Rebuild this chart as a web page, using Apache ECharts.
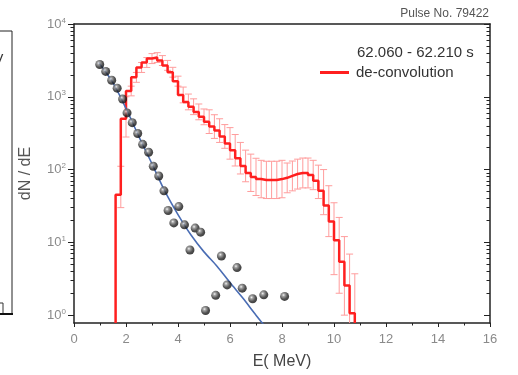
<!DOCTYPE html>
<html><head><meta charset="utf-8">
<script src="https://cdn.jsdelivr.net/npm/echarts@6/dist/echarts.min.js"></script>
<style>html,body{margin:0;padding:0;background:#fff}#c{width:518px;height:375px}</style>
</head><body><div id="c"></div>
<script>
// ---- data ----
const histStartEdge = 1.6;
const binRightEdge = [1.8,2.0,2.2,2.4,2.6,2.8,3.0,3.2,3.4,3.6,3.8,4.0,4.2,4.4,4.6,4.8,5.0,5.2,5.4,5.6,5.8,6.0,6.2,6.4,6.6,6.8,7.0,7.2,7.4,7.6,7.8,8.0,8.2,8.4,8.6,8.8,9.0,9.2,9.4,9.6,9.8,10.0,10.2,10.4,10.6,10.8];
const deconvValue = [45,500,1200,1850,2530,2960,3350,3460,3150,2700,2170,1640,1060,850,730,620,530,455,390,343,285,229,184,143,112,90,79,74,72,72,72,74,77,82,87,90,90,84,70,51,32,19.4,10.7,5.4,2.55,1.06];
const deconvErrLow = [30,280,1030,1580,2160,2530,2860,2960,2690,2310,1860,1400,826,662,569,483,413,313,268,236,196,139,112,87,68,50,44,41,40,40,40,41,48,51,54,56,56,53,40,24,12,3.6,2,1,0.5,0.1];
const deconvErrHigh = [111,1000,1400,2160,2960,3460,3920,4040,3680,3160,2540,1920,1360,1090,937,796,680,662,567,499,415,377,303,236,185,163,143,134,130,130,130,134,123,131,139,144,144,134,115,100,60,35,22,12,6.9,3.7];

const measE = [0.99,1.22,1.45,1.66,1.87,2.04,2.24,2.45,2.64,2.87,3.05,3.26,3.46,3.62,3.84,4.03,4.25,4.46,4.66,4.87,5.06,5.45,5.67,5.89,6.27,6.47,6.87,7.30,8.10];
const measValue = [2780,2230,1690,1315,931,601,441,313,222,173,111,81.6,51,27.4,18.5,31,17.4,7.85,15.7,13.8,1.16,1.87,6.5,2.6,4.5,2.35,1.68,1.9,1.81];

const fitE = [0.95,1.5,2.0,2.5,3.0,3.5,4.0,4.5,5.0,5.5,6.0,6.5,7.0,7.5];
const fitValue = [2950,1550,692,282,120,50,24,12.6,7.4,4.7,2.8,1.7,1.0,0.6];

const yMajorTicks = [1,10,100,1000,10000];
const yMinorTicks = [2,3,4,5,6,7,8,9,20,30,40,50,60,70,80,90,200,300,400,500,600,700,800,900,2000,3000,4000,5000,6000,7000,8000,9000];

const legendTitle = '62.060 - 62.210 s';
const seriesName = 'de-convolution';
const pulseLabel = 'Pulse No. 79422';
const xName = 'E( MeV)';
const yName = 'dN / dE';

// ---- chart ----
const yMin = 0.78, yMax = 10000;
const FONT = 'Liberation Sans, Arial, sans-serif';
const axisColor = '#222';
const labelColor = '#8a8a8a';

const histData = [[histStartEdge, yMin]];
binRightEdge.forEach((e, i) => histData.push([e, deconvValue[i]]));
histData.push([binRightEdge[binRightEdge.length - 1], yMin]);

const errData = binRightEdge.map((e, i) => [e, deconvErrLow[i], deconvErrHigh[i]]);
const measData = measE.map((e, i) => [e, measValue[i]]);
const fitData = fitE.map((e, i) => [e, fitValue[i]]);

const chart = echarts.init(document.getElementById('c'), null, {renderer: 'canvas'});

function logAxis(pos, opts) {
  return Object.assign({
    type: 'log', logBase: 10, min: yMin, max: yMax, position: pos,
    splitLine: {show: false}, minorTick: {show: false}, minorSplitLine: {show: false},
    axisLine: {show: false}, axisLabel: {show: false}
  }, opts);
}

const option = {
  animation: false,
  backgroundColor: '#fff',
  grid: {left: 74, right: 28, top: 24, bottom: 48, containLabel: false},
  xAxis: [
    {
      type: 'value', min: 0, max: 16, interval: 2, position: 'bottom',
      axisLine: {show: true, lineStyle: {color: axisColor, width: 1.5}},
      axisTick: {show: true, length: 4, lineStyle: {color: axisColor, width: 1}},
      minorTick: {show: true, splitNumber: 2, length: 2.5, lineStyle: {color: axisColor, width: 1}},
      splitLine: {show: false},
      axisLabel: {color: labelColor, fontSize: 13, fontFamily: FONT, margin: 10},
      name: xName, nameLocation: 'middle', nameGap: 31,
      nameTextStyle: {color: '#444', fontSize: 16, fontFamily: FONT}
    },
    {
      type: 'value', min: 0, max: 16, position: 'top',
      axisLine: {show: true, lineStyle: {color: axisColor, width: 1.5}},
      axisTick: {show: false}, axisLabel: {show: false}, splitLine: {show: false}
    }
  ],
  yAxis: [
    logAxis('left', {
      axisLine: {show: true, lineStyle: {color: axisColor, width: 1.5}},
      axisTick: {show: true, customValues: yMajorTicks, length: 6, lineStyle: {color: axisColor}},
      axisLabel: {
        show: true, customValues: yMajorTicks, margin: 8, color: labelColor, fontSize: 13, fontFamily: FONT,
        formatter: v => '10{s|' + Math.round(Math.log10(v)) + '}',
        rich: {s: {fontSize: 8, color: labelColor, fontFamily: FONT, verticalAlign: 'top', padding: [0, 0, 7, 0]}}
      },
      name: yName, nameLocation: 'middle', nameGap: 40,
      nameTextStyle: {color: '#555', fontSize: 16, fontFamily: FONT}
    }),
    logAxis('left', {
      axisTick: {show: true, customValues: yMinorTicks, length: 3.5, lineStyle: {color: axisColor}}
    }),
    logAxis('right', {
      axisLine: {show: true, lineStyle: {color: axisColor, width: 1.5}},
      axisTick: {show: true, inside: true, customValues: yMajorTicks, length: 6, lineStyle: {color: axisColor}}
    }),
    logAxis('right', {
      axisTick: {show: true, inside: true, customValues: yMinorTicks, length: 3.5, lineStyle: {color: axisColor}}
    })
  ],
  legend: {
    data: [{name: seriesName, icon: 'rect'}],
    left: 320, top: 65, padding: 0, itemWidth: 29, itemHeight: 3, itemGap: 0,
    textStyle: {fontSize: 15, color: '#333', fontFamily: FONT, padding: [0, 0, 0, 2]},
    selectedMode: false
  },
  graphic: [
    {type: 'text', left: 357, top: 45, style: {text: legendTitle, fontSize: 15, fill: '#333', fontFamily: FONT}},
    {type: 'text', right: 29, top: 8, style: {text: pulseLabel, fontSize: 12, fill: '#555', fontFamily: FONT}},
    {type: 'rect', shape: {x: -6, y: 31, width: 18, height: 283}, style: {fill: 'none', stroke: '#222', lineWidth: 1}},
    {type: 'text', x: -6, y: 53, style: {text: 'V', fontSize: 14, fill: '#333', fontFamily: FONT}},
    {type: 'polyline', shape: {points: [[0, 303], [3, 303], [3, 313]]}, style: {fill: 'none', stroke: '#333', lineWidth: 1}},
    {type: 'line', shape: {x1: 0, y1: 314, x2: 13, y2: 314}, style: {stroke: '#111', lineWidth: 2}}
  ],
  series: [
    {
      type: 'custom', name: 'err', xAxisIndex: 0, yAxisIndex: 0, z: 2, silent: true,
      data: errData,
      encode: {x: 0, y: [1, 2]},
      renderItem: function (params, api) {
        const x = api.value(0), lo = api.value(1), hi = api.value(2);
        const top = api.coord([x, hi]);
        const bot = api.coord([x, Math.max(lo, yMin)]);
        const cw = 3.5;
        const st = {stroke: '#ff9c9c', lineWidth: 1};
        const ch = [
          {type: 'line', shape: {x1: top[0], y1: top[1], x2: bot[0], y2: bot[1]}, style: st},
          {type: 'line', shape: {x1: top[0] - cw, y1: top[1], x2: top[0] + cw, y2: top[1]}, style: st}
        ];
        if (lo > yMin) ch.push({type: 'line', shape: {x1: bot[0] - cw, y1: bot[1], x2: bot[0] + cw, y2: bot[1]}, style: st});
        return {type: 'group', children: ch};
      }
    },
    {
      type: 'line', name: seriesName, xAxisIndex: 0, yAxisIndex: 0, z: 3,
      data: histData, step: 'start', showSymbol: false, symbol: 'none', clip: true,
      lineStyle: {color: '#ff1f1f', width: 2.5}, itemStyle: {color: '#ff1f1f'}
    },
    {
      type: 'line', name: 'fit', xAxisIndex: 0, yAxisIndex: 0, z: 4,
      data: fitData, smooth: 0.3, showSymbol: false, symbol: 'none', clip: true,
      lineStyle: {color: '#4a6db4', width: 1.6}
    },
    {
      type: 'scatter', name: 'measured', xAxisIndex: 0, yAxisIndex: 0, z: 5,
      data: measData, symbol: 'circle', symbolSize: 9,
      itemStyle: {
        color: new echarts.graphic.RadialGradient(0.38, 0.35, 0.65, [
          {offset: 0, color: '#f4f4f4'}, {offset: 0.25, color: '#8a8a8a'}, {offset: 0.7, color: '#262626'}, {offset: 1, color: '#111'}
        ])
      }
    }
  ]
};
chart.setOption(option);
</script></body></html>
